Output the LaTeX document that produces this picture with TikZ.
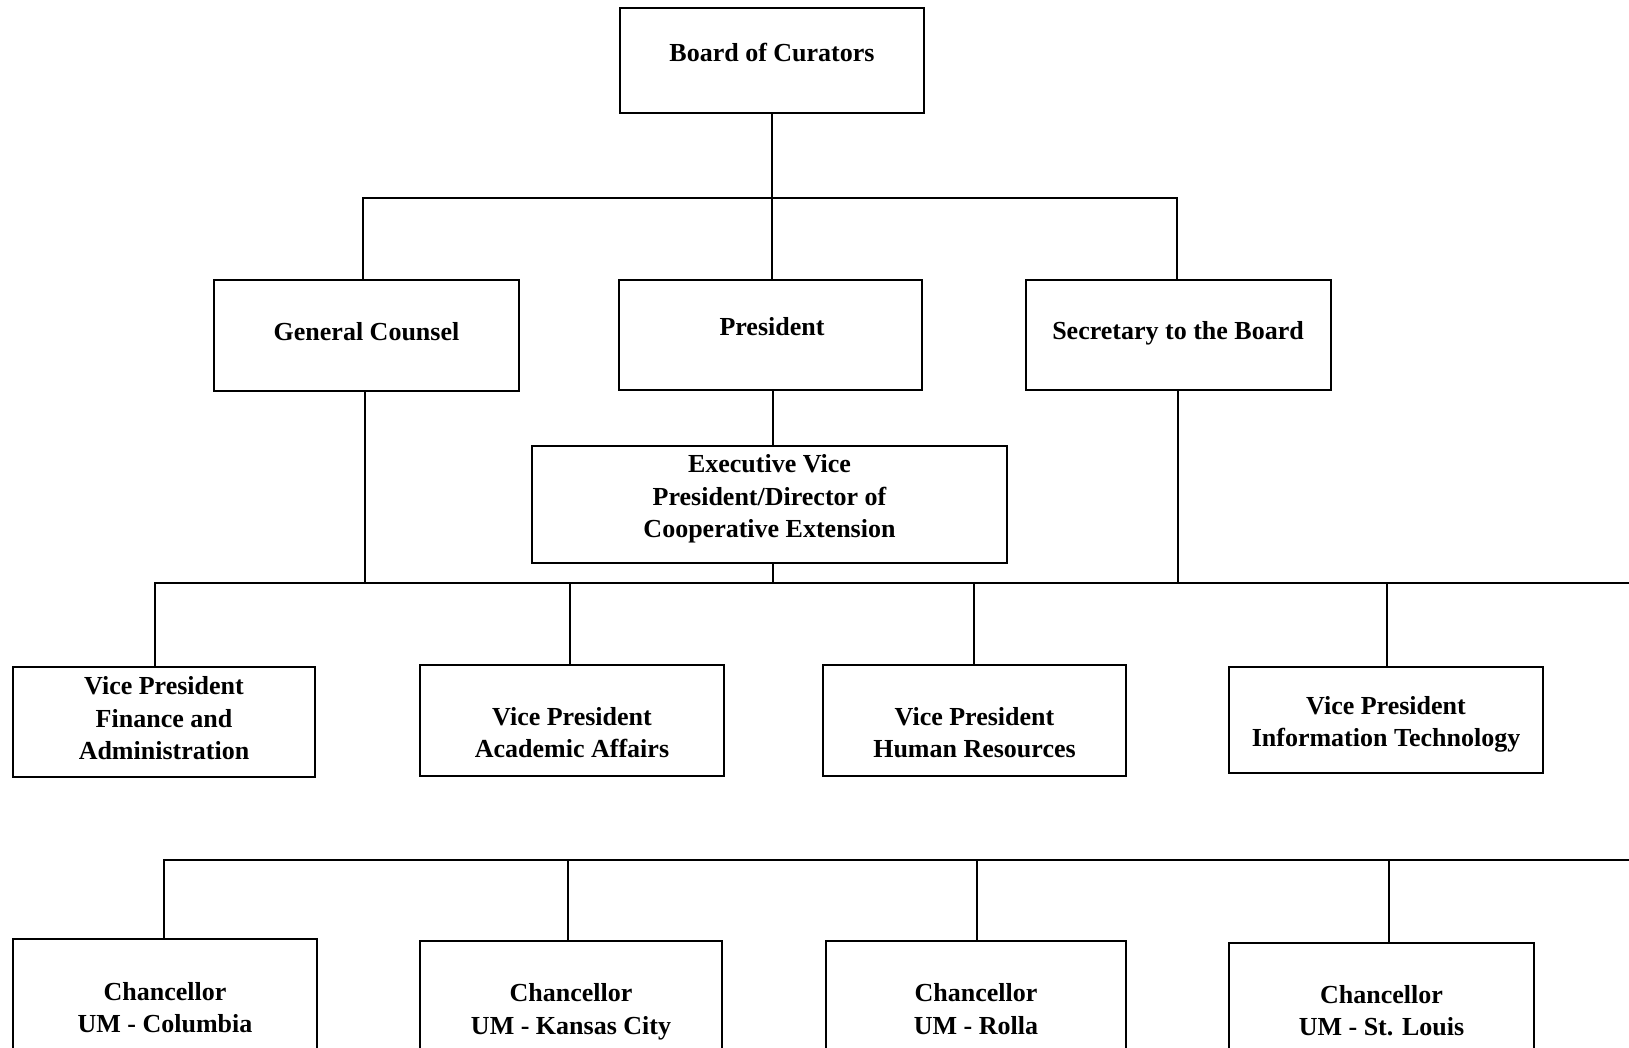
\documentclass[tikz,border=0pt]{standalone}
\usepackage{fontspec}
\setmainfont{Liberation Serif}
\begin{document}
\begin{tikzpicture}[x=1pt,y=-1pt,
  box/.style={draw=black, line width=2pt, inner sep=0pt},
  lbl/.style={font=\fontsize{26}{32.5}\selectfont\bfseries, align=center, inner sep=0pt},
  conn/.style={draw=black, line width=2pt}]
\useasboundingbox (0,0) rectangle (1629,1048);
\clip (0,0) rectangle (1629,1048);
% boxes
\node[box, minimum width=304pt, minimum height=105pt] (board) at (772,60.5) {};
\node[lbl] (tboard) at (772,53) {Board of Curators};
\node[box, minimum width=305pt, minimum height=111pt] (gc) at (366.5,335.5) {};
\node[lbl] (tgc) at (366.5,332) {General Counsel};
\node[box, minimum width=303pt, minimum height=110pt] (pres) at (770.5,335) {};
\node[lbl] (tpres) at (772,327) {President};
\node[box, minimum width=305pt, minimum height=110pt] (sec) at (1178.5,335) {};
\node[lbl] (tsec) at (1178,333) {Secretary to the Board};
\node[box, minimum width=475pt, minimum height=117pt] (evp) at (769.5,504.5) {};
\node[lbl] (tevp) at (769.5,499) {Executive Vice\\President/Director of\\Cooperative Extension};
\node[box, minimum width=302pt, minimum height=110pt] (vp1) at (164,722) {};
\node[lbl] (tvp1) at (164,718.5) {Vice President\\Finance and\\Administration};
\node[box, minimum width=304pt, minimum height=111pt] (vp2) at (572,720.5) {};
\node[lbl] (tvp2) at (572,732.5) {Vice President\\Academic Affairs};
\node[box, minimum width=303pt, minimum height=111pt] (vp3) at (974.5,720.5) {};
\node[lbl] (tvp3) at (974.5,732.5) {Vice President\\Human Resources};
\node[box, minimum width=314pt, minimum height=106pt] (vp4) at (1386,720) {};
\node[lbl] (tvp4) at (1386,724.5) {Vice President\\Information Technology};
\node[box, minimum width=304pt, minimum height=115pt] (ch1) at (165,996.5) {};
\node[lbl] (tch1) at (165,1007.5) {Chancellor\\UM - Columbia};
\node[box, minimum width=302pt, minimum height=115pt] (ch2) at (571,998.5) {};
\node[lbl] (tch2) at (571,1012) {Chancellor\\UM - Kansas City};
\node[box, minimum width=300pt, minimum height=115pt] (ch3) at (976,998.5) {};
\node[lbl] (tch3) at (976,1009) {Chancellor\\UM - Rolla};
\node[box, minimum width=305pt, minimum height=115pt] (ch4) at (1381.5,1000.5) {};
\node[lbl] (tch4) at (1381.5,1010.5) {Chancellor\\UM - St. Louis};
% bus coordinates
\coordinate (bus1) at (0,198);
\coordinate (bus2) at (0,583);
\coordinate (bus2R) at (1640,583);
\coordinate (bus3) at (0,860);
\coordinate (bus3R) at (1640,860);
% level 1
\draw[conn] (board.south) -- (board.south |- pres.north);
\draw[conn] ([xshift=-3.5pt]gc.north) -- ([xshift=-3.5pt]gc.north |- bus1) -| ([xshift=-1.5pt]sec.north);
% president to evp
\draw[conn] ([xshift=2.5pt]pres.south) -- ([xshift=2.5pt]pres.south |- evp.north);
% level 2 bus
\draw[conn] ([xshift=-9pt]vp1.north) |- (bus2R);
\draw[conn] ([xshift=-1.5pt]gc.south) -- ([xshift=-1.5pt]gc.south |- bus2);
\draw[conn] ([xshift=-0.5pt]sec.south) -- ([xshift=-0.5pt]sec.south |- bus2);
\draw[conn] ([xshift=3.5pt]evp.south) -- ([xshift=3.5pt]evp.south |- bus2);
\draw[conn] ([xshift=-2pt]vp2.north) -- ([xshift=-2pt]vp2.north |- bus2);
\draw[conn] ([xshift=-0.5pt]vp3.north) -- ([xshift=-0.5pt]vp3.north |- bus2);
\draw[conn] ([xshift=1pt]vp4.north) -- ([xshift=1pt]vp4.north |- bus2);
% level 3 bus
\draw[conn] ([xshift=-1pt]ch1.north) |- (bus3R);
\draw[conn] ([xshift=-3pt]ch2.north) -- ([xshift=-3pt]ch2.north |- bus3);
\draw[conn] ([xshift=1pt]ch3.north) -- ([xshift=1pt]ch3.north |- bus3);
\draw[conn] ([xshift=7.5pt]ch4.north) -- ([xshift=7.5pt]ch4.north |- bus3);
\end{tikzpicture}
\end{document}
